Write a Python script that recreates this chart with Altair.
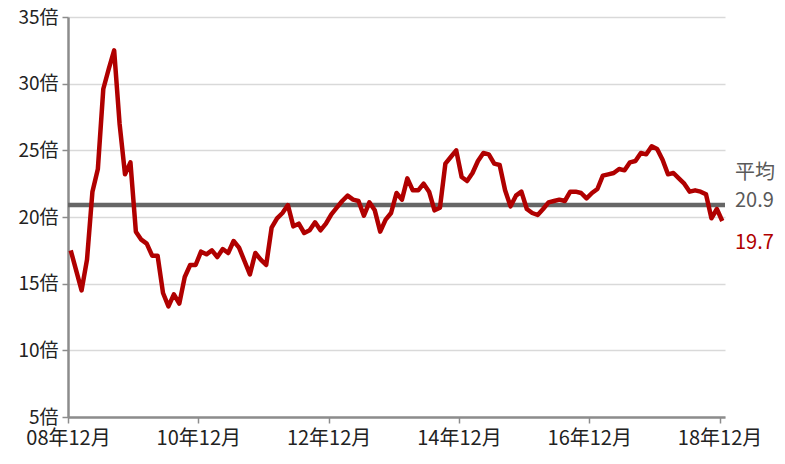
import altair as alt
import pandas as pd

# Monthly values, 08年12月 .. 18年12月 (121 months)
values = [
    17.5, 16.0, 14.5, 16.8, 21.9, 23.6, 29.6, 31.1, 32.5, 27.0, 23.2, 24.1,
    18.9, 18.3, 18.0, 17.1, 17.1, 14.3, 13.3, 14.2, 13.5, 15.5, 16.4, 16.4,
    17.4, 17.2, 17.5, 17.0, 17.6, 17.3, 18.2, 17.7, 16.7, 15.7, 17.3, 16.8,
    16.4, 19.2, 19.9, 20.3, 20.9, 19.3, 19.5, 18.8, 19.0, 19.6, 19.0, 19.5,
    20.2, 20.7, 21.2, 21.6, 21.3, 21.2, 20.1, 21.1, 20.5, 18.9, 19.8, 20.3,
    21.8, 21.3, 22.9, 22.0, 22.0, 22.5, 21.9, 20.5, 20.7, 24.0, 24.5, 25.0,
    23.0, 22.7, 23.3, 24.2, 24.8, 24.7, 24.0, 23.9, 22.0, 20.8, 21.6, 21.9,
    20.6, 20.3, 20.15, 20.6, 21.1, 21.2, 21.3, 21.2, 21.9, 21.9, 21.8, 21.4,
    21.8, 22.1, 23.1, 23.2, 23.3, 23.6, 23.5, 24.1, 24.2, 24.8, 24.7, 25.3,
    25.1, 24.3, 23.2, 23.3, 22.9, 22.5, 21.9, 22.0, 21.9, 21.7, 19.9, 20.6,
    19.7,
]
x_tick_labels = ["08年12月", "10年12月", "12年12月", "14年12月", "16年12月", "18年12月"]
y_ticks = [5, 10, 15, 20, 25, 30, 35]
average = 20.9
avg_label = "平均"
avg_text = "20.9"
last_text = "19.7"

LINE_RED = "#b00000"
AVG_GRAY = "#666666"
TEXT_GRAY = "#595959"
FONT = "Noto Sans CJK JP"

n = len(values)
df = pd.DataFrame({"m": [i + 0.5 for i in range(n)], "v": values})

x_scale = alt.Scale(domain=[0, n], nice=False, zero=False)
y_scale = alt.Scale(domain=[5, 35], nice=False, zero=False)

label_expr = "[" + ",".join("'" + s + "'" for s in x_tick_labels) + "][datum.value/24]"

x_axis = alt.Axis(
    values=[24 * i for i in range(len(x_tick_labels))],
    labelExpr=label_expr,
    grid=False,
    title=None,
    domainColor="#8c8c8c",
    domainWidth=2.5,
    tickColor="#8c8c8c",
    tickWidth=1.5,
    tickSize=6,
    labelFont=FONT,
    labelFontSize=20,
    labelColor="#222222",
    labelPadding=5,
    labelFlush=False,
)
y_axis = alt.Axis(
    values=y_ticks,
    labelExpr="datum.value + '倍'",
    grid=True,
    gridColor="#d9d9d9",
    gridWidth=1.5,
    title=None,
    domainColor="#8c8c8c",
    domainWidth=2.5,
    tickColor="#8c8c8c",
    tickWidth=1.5,
    tickSize=6,
    labelFont=FONT,
    labelFontSize=19,
    labelColor="#222222",
    labelPadding=4,
)

line = alt.Chart(df).mark_line(color=LINE_RED, strokeWidth=4.5, strokeJoin="round").encode(
    x=alt.X("m:Q", scale=x_scale, axis=x_axis),
    y=alt.Y("v:Q", scale=y_scale, axis=y_axis),
)

avg_df = pd.DataFrame({"a": [0], "b": [n], "v": [average]})
avg_rule = alt.Chart(avg_df).mark_rule(color=AVG_GRAY, strokeWidth=4.5).encode(
    x=alt.X("a:Q", scale=x_scale),
    x2="b:Q",
    y=alt.Y("v:Q", scale=y_scale),
)

lab_df = pd.DataFrame({
    "x": [n, n, n],
    "y": [average, average, values[-1]],
    "t": [avg_label, avg_text, last_text],
    "c": [TEXT_GRAY, TEXT_GRAY, LINE_RED],
    "dy": [-32, -4, 22],
})
labels = []
for _, r in lab_df.iterrows():
    labels.append(
        alt.Chart(pd.DataFrame([r])).mark_text(
            align="left", baseline="middle", dx=10, dy=float(r["dy"]),
            font=FONT, fontSize=20, color=r["c"],
        ).encode(
            x=alt.X("x:Q", scale=x_scale),
            y=alt.Y("y:Q", scale=y_scale),
            text="t:N",
        )
    )

chart = alt.layer(avg_rule, line, *labels).properties(
    width=657,
    height=400,
    autosize=alt.AutoSizeParams(type="none"),
    padding={"left": 60, "top": 9, "right": 52, "bottom": 34},
    background="white",
).configure_view(stroke=None)

chart.save("out.html", embed_options={"renderer": "svg", "actions": False})
